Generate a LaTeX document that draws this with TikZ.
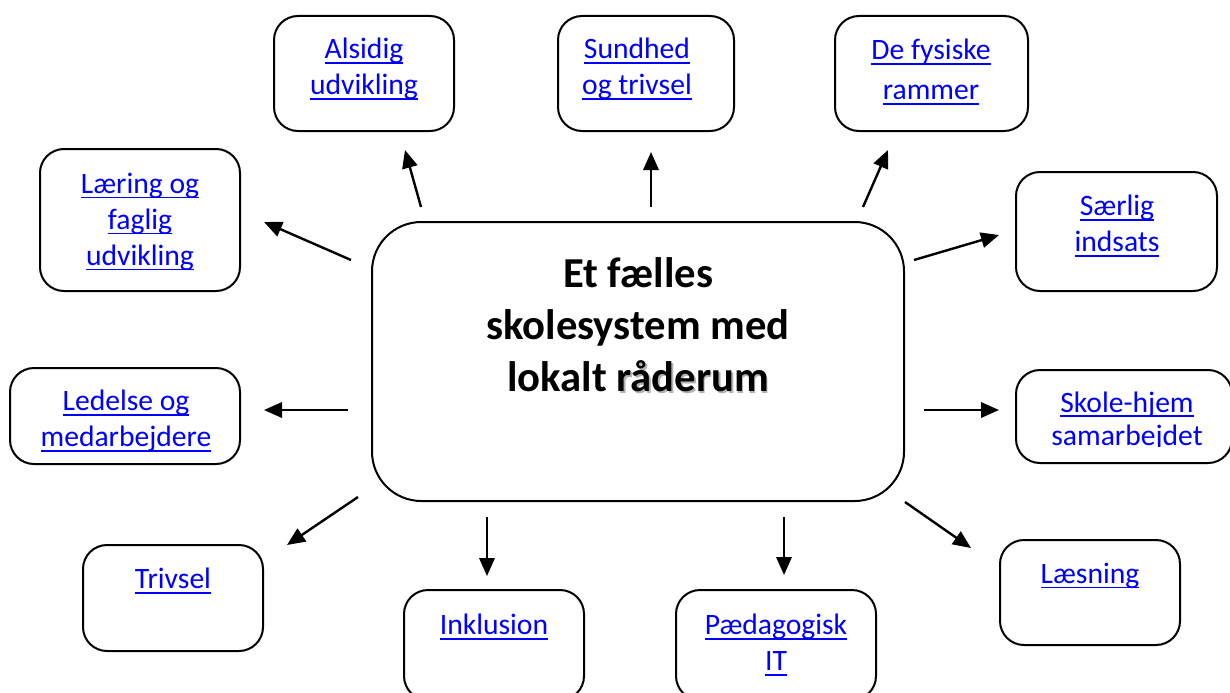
\documentclass[tikz,border=0pt]{standalone}
\usepackage{fontspec}
\setmainfont{Carlito}
\usetikzlibrary{arrows.meta}
\definecolor{linkblue}{RGB}{0,0,255}
\newcommand{\lnk}[1]{\setbox0\hbox{#1}\rlap{\rule[-3.6pt]{\wd0}{1.3pt}}\box0}
\newcommand{\shadowtxt}[1]{\makebox[0pt][l]{\kern1.3pt\raisebox{-1.3pt}{\textcolor{black!30}{#1}}}#1}
\begin{document}
\begin{tikzpicture}[x=0.75pt,y=-0.75pt,
  box/.style={draw, line width=1.5pt, rounded corners=18pt, inner sep=0pt},
  lbl/.style={text=linkblue, font=\fontsize{22.2}{27}\selectfont, align=center, inner sep=0pt},
  arr/.style={line width=1.8pt, -{Triangle[length=13.5pt,width=11.5pt]}}]
\useasboundingbox (0,0) rectangle (1230,692);

% central node
\node[box, rounded corners=37pt, minimum width=399pt, minimum height=209.25pt] (c) at (638,361.5) {};
\node[align=center, inner sep=0pt, font=\fontsize{32}{39}\selectfont\bfseries] (ct) at (638,326)
  {Et fælles\\skolesystem med\\lokalt \shadowtxt{råderum}};

% outer boxes
\node[box, minimum width=135pt, minimum height=86.25pt] (b1) at (364,73.5) {};
\node[lbl] (t1) at (364,69) {\lnk{Alsidig}\\\lnk{udvikling}};

\node[box, minimum width=132pt, minimum height=86.25pt] (b2) at (646,73.5) {};
\node[lbl] (t2) at (637,69) {\lnk{Sundhed}\\\lnk{og trivsel}};

\node[box, minimum width=144.75pt, minimum height=86.25pt] (b3) at (931.5,73.5) {};
\node[lbl, font=\fontsize{22.2}{30}\selectfont] (t3) at (931,72) {\lnk{De fysiske}\\\lnk{rammer}};

\node[box, minimum width=150.75pt, minimum height=89.25pt] (b4) at (1116.5,231.5) {};
\node[lbl] (t4) at (1117,226) {\lnk{Særlig}\\\lnk{indsats}};

\node[box, minimum width=162pt, minimum height=69.75pt] (b5) at (1124,416.5) {};
\begin{scope}
  \clip (1016,370) rectangle (1240,446);
  \node[lbl, font=\fontsize{22.2}{25}\selectfont] (t5) at (1127,421) {\lnk{Skole-hjem}\\samarbejdet};
\end{scope}

\node[box, minimum width=135pt, minimum height=78.75pt] (b6) at (1090,592.5) {};
\node[lbl] (t6) at (1090,576) {\lnk{Læsning}};

\node[box, minimum width=150pt, minimum height=82.5pt] (b7) at (776,645) {};
\node[lbl] (t7) at (776,645) {\lnk{Pædagogisk}\\\lnk{IT}};

\node[box, minimum width=135pt, minimum height=82.5pt] (b8) at (494,645) {};
\node[lbl] (t8) at (494,627) {\lnk{Inklusion}};

\node[box, minimum width=135pt, minimum height=79.5pt] (b9) at (173,598) {};
\node[lbl] (t9) at (173,581) {\lnk{Trivsel}};

\node[box, minimum width=172.5pt, minimum height=72pt] (b10) at (125,416) {};
\node[lbl] (t10) at (126,421) {\lnk{Ledelse og}\\\lnk{medarbejdere}};

\node[box, minimum width=150pt, minimum height=106.5pt] (b11) at (140,220) {};
\node[lbl] (t11) at (140,222) {\lnk{Læring og}\\\lnk{faglig}\\\lnk{udvikling}};

% arrow end points
\coordinate (s1) at (421,207);  \coordinate (e1) at (405,150);
\coordinate (s2) at (651,207);  \coordinate (e2) at (651,152);
\coordinate (s3) at (863,207);  \coordinate (e3) at (888,150);
\coordinate (s4) at (914,260);  \coordinate (e4) at (999,235);
\coordinate (s5) at (924,410);  \coordinate (e5) at (999,410);
\coordinate (s6) at (905,502);  \coordinate (e6) at (971,548);
\coordinate (s7) at (784,517);  \coordinate (e7) at (784,575);
\coordinate (s8) at (487,517);  \coordinate (e8) at (487,576);
\coordinate (s9) at (358,497);  \coordinate (e9) at (287,545);
\coordinate (s10) at (348,410); \coordinate (e10) at (264,410);
\coordinate (s11) at (351,260); \coordinate (e11) at (264,222);

\foreach \i in {1,...,11} { \draw[arr] (s\i) -- (e\i); }
\end{tikzpicture}
\end{document}
